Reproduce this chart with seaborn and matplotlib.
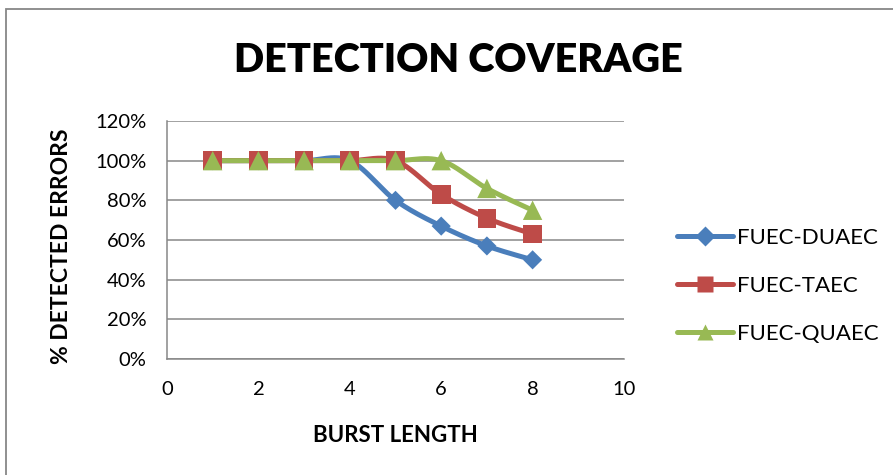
import numpy as np
import pandas as pd
import seaborn as sns
import matplotlib.pyplot as plt
from matplotlib.lines import Line2D
from matplotlib.patches import Rectangle

# data
burst_length = [1, 2, 3, 4, 5, 6, 7, 8]
fuec_duaec = [100, 100, 100, 100, 80, 67, 57, 50]
fuec_taec = [100, 100, 100, 100, 100, 83, 71, 63]
fuec_quaec = [100, 100, 100, 100, 100, 100, 86, 75]
series_names = ['FUEC-DUAEC', 'FUEC-TAEC', 'FUEC-QUAEC']
y_ticks = [0, 20, 40, 60, 80, 100, 120]
x_ticks = [0, 2, 4, 6, 8, 10]

colors = ['#4A7EBB', '#BE4B48', '#98B954']
markers = ['D', 's', '^']
marker_sizes = [95, 180, 195]


def smooth(x, y, n=40):
    # excel-like smoothed line: catmull-rom segments as cubic bezier
    x = np.asarray(x, float)
    y = np.asarray(y, float)
    px = np.concatenate([[x[0]], x, [x[-1]]])
    py = np.concatenate([[y[0]], y, [y[-1]]])
    t = np.linspace(0, 1, n)[:, None]
    out = []
    for i in range(len(x) - 1):
        p0 = np.array([px[i], py[i]])
        p1 = np.array([px[i + 1], py[i + 1]])
        p2 = np.array([px[i + 2], py[i + 2]])
        p3 = np.array([px[i + 3], py[i + 3]])
        c1 = p1 + (p2 - p0) / 6
        c2 = p2 - (p3 - p1) / 6
        seg = ((1 - t) ** 3) * p1 + 3 * ((1 - t) ** 2) * t * c1 + 3 * (1 - t) * t ** 2 * c2 + t ** 3 * p2
        out.append(seg if i == 0 else seg[1:])
    out = np.vstack(out)
    return out[:, 0], out[:, 1]


df = pd.DataFrame({
    'burst': burst_length * 3,
    'pct': fuec_duaec + fuec_taec + fuec_quaec,
    'series': np.repeat(series_names, len(burst_length)),
})

sns.set_style('white')
plt.rcParams['font.family'] = ['Lato', 'DejaVu Sans']
plt.rcParams['text.color'] = 'black'
plt.rcParams['xtick.labelcolor'] = 'black'
plt.rcParams['ytick.labelcolor'] = 'black'

fig = plt.figure(figsize=(8.93, 4.75), dpi=100)
ax = fig.add_axes([167 / 893, 1 - 359 / 475, (624 - 167) / 893, (359 - 121) / 475])

# chart frame like the excel border
fig.patches.append(Rectangle((6 / 893, -0.2), 1.2, 1 - 9 / 475 + 0.2, transform=fig.transFigure,
                             fill=False, edgecolor='#878787', lw=1.3))

for name, c, m, s in zip(series_names, colors, markers, marker_sizes):
    sub = df[df['series'] == name]
    sx, sy = smooth(sub['burst'], sub['pct'])
    sm = pd.DataFrame({'burst': sx, 'pct': sy})
    sns.lineplot(data=sm, x='burst', y='pct', sort=False, estimator=None, color=c, lw=3.6,
                 solid_capstyle='round', ax=ax, legend=False)
    sns.scatterplot(data=sub, x='burst', y='pct', marker=m, s=s, color=c, edgecolor='none',
                    ax=ax, legend=False, zorder=3)

ax.set_xlim(0, 10)
ax.set_ylim(0, 120)
ax.set_xticks(x_ticks)
ax.set_yticks(y_ticks)
ax.set_yticklabels([f'{v}%' for v in y_ticks])
ax.grid(axis='y', color='#878787', lw=1.1)
ax.set_axisbelow(True)
for side in ['top', 'right']:
    ax.spines[side].set_visible(False)
for side in ['left', 'bottom']:
    ax.spines[side].set_color('#878787')
    ax.spines[side].set_linewidth(1.1)
ax.tick_params(axis='y', length=6, width=1.1, color='#878787', pad=9, labelsize=14.5)
ax.tick_params(axis='x', length=0, pad=16, labelsize=14.5)
ax.set_xlabel('')
ax.set_ylabel('')

fig.text(458 / 893, 1 - 60 / 475, 'DETECTION COVERAGE', ha='center', va='center',
         fontsize=28.5, fontweight='heavy')
fig.text(62 / 893, 1 - 246 / 475, '% DETECTED ERRORS', ha='center', va='center',
         rotation=90, fontsize=16.5, fontweight='bold')
fig.text(395 / 893, 1 - 436 / 475, 'BURST LENGTH', ha='center', va='center',
         fontsize=16, fontweight='bold')

handles = [Line2D([], [], color=c, lw=3.6, marker=m, markersize=ms, markeredgecolor='none',
                  solid_capstyle='round')
           for c, m, ms in zip(colors, markers, [10, 12, 12])]
fig.legend(handles, series_names, loc='center left', bbox_to_anchor=(677 / 893, 1 - 286 / 475),
           frameon=False, fontsize=16, handlelength=2.5, handletextpad=0.2, labelspacing=1.25,
           borderpad=0, borderaxespad=0)

fig.savefig('out.png', dpi=100)
